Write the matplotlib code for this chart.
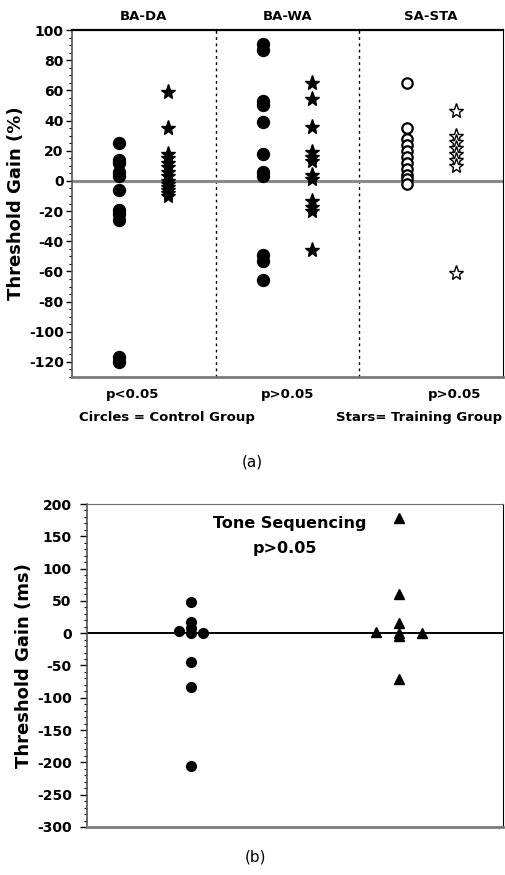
"""
Threshold gain — control vs training groups, two panels.
"""

import numpy as np
import matplotlib
matplotlib.use("Agg")
import matplotlib.pyplot as plt
from matplotlib.ticker import MultipleLocator

# ─── DATA ─────────────────────────────────────────────────────────────────────
# panel (a): threshold gain (%) per condition, circles = control, stars = training

CONDITIONS = ["BA-DA", "BA-WA", "SA-STA"]
P_LABELS   = ["p<0.05", "p>0.05", "p>0.05"]

BA_DA_CTRL  = [25, 14, 12, 6, 3, -6, -19, -22, -26, -117, -120]
BA_DA_TRAIN = [59, 35, 18, 15, 12, 9, 6, 3, 0, -2, -4, -6, -8, -10]

BA_WA_CTRL  = [91, 87, 53, 50, 39, 18, 6, 3, -49, -53, -66]
BA_WA_TRAIN = [65, 54, 36, 19, 16, 13, 4, 1, -13, -17, -20, -46]

SA_STA_CTRL  = [65, 35, 28, 24, 20, 16, 12, 8, 4, 1, -2]
SA_STA_TRAIN = [46, 30, 26, 22, 18, 14, 10, -61]

# panel (b): tone sequencing threshold gain (ms)
TONE_CTRL  = [48, 18, 8, 3, 0, 0, -45, -84, -205]
TONE_TRAIN = [179, 60, 16, 2, 0, 0, -5, -71]

# small horizontal spread for the overlapping markers near zero in (b)
CTRL_JITTER  = [0, 0, 0, -0.06, 0.06, 0, 0, 0, 0]
TRAIN_JITTER = [0, 0, 0, -0.11, 0.11, 0, 0, 0]

# ─── FIGURE ───────────────────────────────────────────────────────────────────

plt.rcParams["font.family"] = ["DejaVu Sans"]
plt.rcParams["font.weight"] = "bold"
plt.rcParams["axes.unicode_minus"] = False   # plain hyphen minus like the original

fig = plt.figure(figsize=(5.05, 8.75), dpi=100)
fig.patch.set_facecolor("white")

TICK_FS  = 10
LABEL_FS = 13
TEXT_FS  = 9.5

# ─── PANEL (a) ────────────────────────────────────────────────────────────────

ax = fig.add_axes([0.1426, 0.5691, 0.8535, 0.3966])

groups = [(BA_DA_CTRL, BA_DA_TRAIN), (BA_WA_CTRL, BA_WA_TRAIN),
          (SA_STA_CTRL, SA_STA_TRAIN)]

for i, (ctrl, train) in enumerate(groups):
    open_marker = (i == 2)   # SA-STA drawn with hollow markers
    fc = "white" if open_marker else "black"
    ax.plot(np.full(len(ctrl), i + 0.33), ctrl, "o", ms=8 if not open_marker else 7.5,
            mfc=fc, mec="black", mew=1.6, ls="none", zorder=3)
    ax.plot(np.full(len(train), i + 0.67), train, "*", ms=11,
            mfc=fc, mec="black", mew=1.0, ls="none", zorder=3)

ax.axhline(0, color="#8a8a8a", lw=2.2, zorder=2)
for xv in (1, 2):
    ax.axvline(xv, color="black", lw=1.0, ls=(0, (2, 2.5)), zorder=1)

ax.set_xlim(0, 3)
ax.set_ylim(-130, 100)
ax.set_xticks([])
ax.yaxis.set_major_locator(MultipleLocator(20))
ax.yaxis.set_minor_locator(MultipleLocator(5))
ax.tick_params(axis="y", which="major", length=4, width=1, labelsize=TICK_FS, pad=2)
ax.tick_params(axis="y", which="minor", length=2, width=0.8)
ax.set_ylabel("Threshold Gain (%)", fontsize=LABEL_FS, fontweight="bold", labelpad=3)

ax.spines["top"].set_linewidth(1.6)
ax.spines["bottom"].set_color("#7a7a7a")
ax.spines["bottom"].set_linewidth(2.0)
ax.spines["left"].set_color("#555555")
ax.spines["left"].set_linewidth(1.2)
ax.spines["right"].set_linewidth(0.8)

for i, name in enumerate(CONDITIONS):
    ax.text(i + 0.5, 1.04, name, transform=ax.get_xaxis_transform(),
            ha="center", va="center", fontsize=TEXT_FS, fontweight="bold")

p_x = [0.42, 1.5, 2.66]
for xv, lab in zip(p_x, P_LABELS):
    ax.text(xv, -0.05, lab, transform=ax.get_xaxis_transform(),
            ha="center", va="center", fontsize=TEXT_FS, fontweight="bold")

ax.text(0.22, -0.118, "Circles = Control Group", transform=ax.transAxes,
        ha="center", va="center", fontsize=TEXT_FS, fontweight="bold")
ax.text(0.805, -0.118, "Stars= Training Group", transform=ax.transAxes,
        ha="center", va="center", fontsize=TEXT_FS, fontweight="bold")

fig.text(0.5, 1 - 462 / 875, "(a)", ha="center", va="center",
         fontsize=11, fontweight="normal")

# ─── PANEL (b) ────────────────────────────────────────────────────────────────

bx = fig.add_axes([0.1723, 0.0549, 0.8238, 0.3691])

bx.plot(0.5 + np.array(CTRL_JITTER), TONE_CTRL, "o", ms=7,
        mfc="black", mec="black", ls="none", zorder=3)
bx.plot(1.5 + np.array(TRAIN_JITTER), TONE_TRAIN, "^", ms=7.5,
        mfc="black", mec="black", ls="none", zorder=3)

bx.axhline(0, color="black", lw=1.4, zorder=2)

bx.set_xlim(0, 2)
bx.set_ylim(-300, 200)
bx.set_xticks([])
bx.yaxis.set_major_locator(MultipleLocator(50))
bx.yaxis.set_minor_locator(MultipleLocator(10))
bx.tick_params(axis="y", which="major", length=5, width=1, labelsize=TICK_FS, pad=6)
bx.tick_params(axis="y", which="minor", length=2, width=0.8)
bx.set_ylabel("Threshold Gain (ms)", fontsize=LABEL_FS, fontweight="bold", labelpad=3)

bx.spines["top"].set_color("#6a6a6a")
bx.spines["top"].set_linestyle((0, (1, 1)))
bx.spines["bottom"].set_color("#7a7a7a")
bx.spines["bottom"].set_linewidth(2.0)
bx.spines["left"].set_color("#555555")
bx.spines["left"].set_linewidth(1.2)
bx.spines["right"].set_linewidth(0.8)

bx.text(0.487, 0.94, "Tone Sequencing", transform=bx.transAxes,
        ha="center", va="center", fontsize=11.5, fontweight="bold")
bx.text(0.475, 0.862, "p>0.05", transform=bx.transAxes,
        ha="center", va="center", fontsize=11.5, fontweight="bold")

fig.text(0.505, 1 - 857 / 875, "(b)", ha="center", va="center",
         fontsize=11, fontweight="normal")

fig.savefig("out.png", dpi=100, facecolor="white")
